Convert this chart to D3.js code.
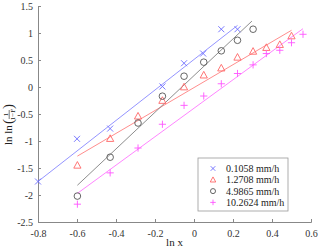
<!DOCTYPE html>
<html>
<head>
<meta charset="utf-8">
<script src="https://cdn.jsdelivr.net/npm/d3@7"></script>
<style>
  body { margin: 0; background: #fff; }
  svg text { font-family: "Liberation Serif", "Times New Roman", serif; }
</style>
</head>
<body>
<div id="chart"></div>
<script>
// series
const xBlue = [-0.8, -0.6, -0.43, -0.162, -0.051, 0.047, 0.14, 0.223];
const yBlue = [-1.75, -0.96, -0.77, 0.01, 0.44, 0.62, 1.07, 1.07];
const xRed = [-0.598, -0.43, -0.287, -0.162, -0.051, 0.05, 0.14, 0.223, 0.303, 0.371, 0.44, 0.5];
const yRed = [-1.45, -0.955, -0.54, -0.25, 0.0, 0.22, 0.35, 0.55, 0.66, 0.73, 0.785, 0.945];
const xBlack = [-0.598, -0.43, -0.287, -0.162, -0.051, 0.05, 0.14, 0.223, 0.303];
const yBlack = [-2.02, -1.3, -0.667, -0.17, 0.2, 0.46, 0.67, 0.865, 1.07];
const xMag = [-0.598, -0.43, -0.287, -0.162, -0.051, 0.05, 0.14, 0.223, 0.303, 0.371, 0.44, 0.5, 0.559];
const yMag = [-2.17, -1.59, -1.13, -0.69, -0.34, -0.167, 0.06, 0.25, 0.41, 0.62, 0.68, 0.82, 0.976];

// fitted lines, [x1, y1, x2, y2]
const fitBlue = [-0.8, -1.75, 0.223, 1.14];
const fitRed = [-0.598, -1.28, 0.5, 1.05];
const fitBlack = [-0.598, -1.82, 0.297, 1.22];
const fitMag = [-0.598, -1.97, 0.559, 1.08];

const legendLabels = ['0.1058 mm/h', '1.2708 mm/h', '4.9865 mm/h', '10.2624 mm/h'];
const xTicks = [-0.8, -0.6, -0.4, -0.2, 0, 0.2, 0.4, 0.6];
const xTickLabels = ['-0.8', '-0.6', '-0.4', '-0.2', '0', '0.2', '0.4', '0.6'];
const yTicks = [-2.5, -2, -1.5, -1, -0.5, 0, 0.5, 1, 1.5];
const yTickLabels = ['-2.5', '-2', '-1.5', '-1', '-0.5', '0', '0.5', '1', '1.5'];

const series = [
  { xs: xBlue, ys: yBlue, fit: fitBlue, marker: 'x', color: '#6a6aff', lineColor: '#8888ff' },
  { xs: xRed, ys: yRed, fit: fitRed, marker: 'tri', color: '#ff6666', lineColor: '#ff8080' },
  { xs: xBlack, ys: yBlack, fit: fitBlack, marker: 'circle', color: '#555555', lineColor: '#808080' },
  { xs: xMag, ys: yMag, fit: fitMag, marker: 'plus', color: '#ff55ff', lineColor: '#ff77ff' }
];

const width = 320;
const height = 250;
const margin = { top: 6, right: 9, bottom: 28, left: 38 };

const svg = d3.select('#chart')
  .append('svg')
    .attr('width', width)
    .attr('height', height);

const x = d3.scaleLinear()
  .domain([-0.8, 0.6])
  .range([margin.left, width - margin.right]);
const y = d3.scaleLinear()
  .domain([-2.5, 1.5])
  .range([height - margin.bottom, margin.top]);

// axes, ticks pointing inwards
const xAxis = svg.append('g')
  .attr('transform', `translate(0, ${y(-2.5)})`)
  .call(d3.axisBottom(x).tickValues(xTicks).tickSize(-3).tickPadding(8)
    .tickFormat((d, i) => xTickLabels[i]));
const yAxis = svg.append('g')
  .attr('transform', `translate(${x(-0.8)}, 0)`)
  .call(d3.axisLeft(y).tickValues(yTicks).tickSize(-3).tickPadding(5)
    .tickFormat((d, i) => yTickLabels[i]));

[xAxis, yAxis].forEach(g => {
  g.select('.domain').attr('stroke', '#888');
  g.selectAll('.tick line').attr('stroke', '#888');
  g.selectAll('.tick text')
    .attr('fill', '#333')
    .style('font-size', '10px')
    .style('font-family', '"Liberation Serif", serif');
});

// fitted lines
svg.append('g')
  .selectAll('line')
  .data(series)
  .join('line')
    .attr('x1', d => x(d.fit[0]))
    .attr('y1', d => y(d.fit[1]))
    .attr('x2', d => x(d.fit[2]))
    .attr('y2', d => y(d.fit[3]))
    .attr('stroke', d => d.lineColor)
    .attr('stroke-width', 0.9);

// marker shapes
const drawMarker = (g, type, color, s) => {
  if (type === 'x') {
    g.append('path').attr('d', `M${-s},${-s}L${s},${s}M${-s},${s}L${s},${-s}`)
      .attr('stroke', color).attr('fill', 'none').attr('stroke-width', 0.9);
  } else if (type === 'tri') {
    g.append('path').attr('d', `M0,${-s * 1.25}L${s * 1.2},${s * 0.95}L${-s * 1.2},${s * 0.95}Z`)
      .attr('stroke', color).attr('fill', 'none').attr('stroke-width', 0.9);
  } else if (type === 'circle') {
    g.append('circle').attr('r', s * 1.1)
      .attr('stroke', color).attr('fill', 'none').attr('stroke-width', 0.9);
  } else {
    g.append('path').attr('d', `M${-s * 1.2},0L${s * 1.2},0M0,${-s * 1.2}L0,${s * 1.2}`)
      .attr('stroke', color).attr('fill', 'none').attr('stroke-width', 0.9);
  }
};

series.forEach(sr => {
  const pts = sr.xs.map((v, i) => [v, sr.ys[i]]);
  svg.append('g')
    .selectAll('g')
    .data(pts)
    .join('g')
      .attr('transform', d => `translate(${x(d[0])}, ${y(d[1])})`)
      .each(function () { drawMarker(d3.select(this), sr.marker, sr.color, 3); });
});

// legend
const legend = svg.append('g').attr('transform', 'translate(198, 158)');
legend.append('rect')
  .attr('width', 90)
  .attr('height', 53)
  .attr('fill', '#fff')
  .attr('stroke', '#999')
  .attr('stroke-width', 0.8);
series.forEach((sr, i) => {
  const row = legend.append('g').attr('transform', `translate(0, ${10.5 + i * 11.3})`);
  const m = row.append('g').attr('transform', 'translate(15, 0)');
  drawMarker(m, sr.marker, sr.color, 2.3);
  row.append('text')
    .attr('x', 28)
    .attr('y', 3.5)
    .attr('fill', '#222')
    .style('font-size', '10px')
    .text(legendLabels[i]);
});

// axis labels
svg.append('text')
  .attr('x', x(-0.1))
  .attr('y', 246)
  .attr('text-anchor', 'middle')
  .attr('fill', '#222')
  .style('font-size', '11px')
  .text('ln x');

const yl = svg.append('g').attr('transform', 'translate(12, 145) rotate(-90)');
yl.append('text').attr('x', 0).attr('y', 0).attr('fill', '#222')
  .style('font-size', '11px').text('ln ln');
yl.append('text').attr('x', 21).attr('y', 1).attr('fill', '#222')
  .style('font-size', '15px').text('(');
yl.append('text').attr('x', 30.5).attr('y', -4).attr('text-anchor', 'middle').attr('fill', '#222')
  .style('font-size', '7px').text('1');
yl.append('line').attr('x1', 26).attr('x2', 35).attr('y1', -2.8).attr('y2', -2.8)
  .attr('stroke', '#222').attr('stroke-width', 0.6);
yl.append('text').attr('x', 30.5).attr('y', 3).attr('text-anchor', 'middle').attr('fill', '#222')
  .style('font-size', '7px').text('1−F');
yl.append('text').attr('x', 36).attr('y', 1).attr('fill', '#222')
  .style('font-size', '15px').text(')');
</script>
</body>
</html>
